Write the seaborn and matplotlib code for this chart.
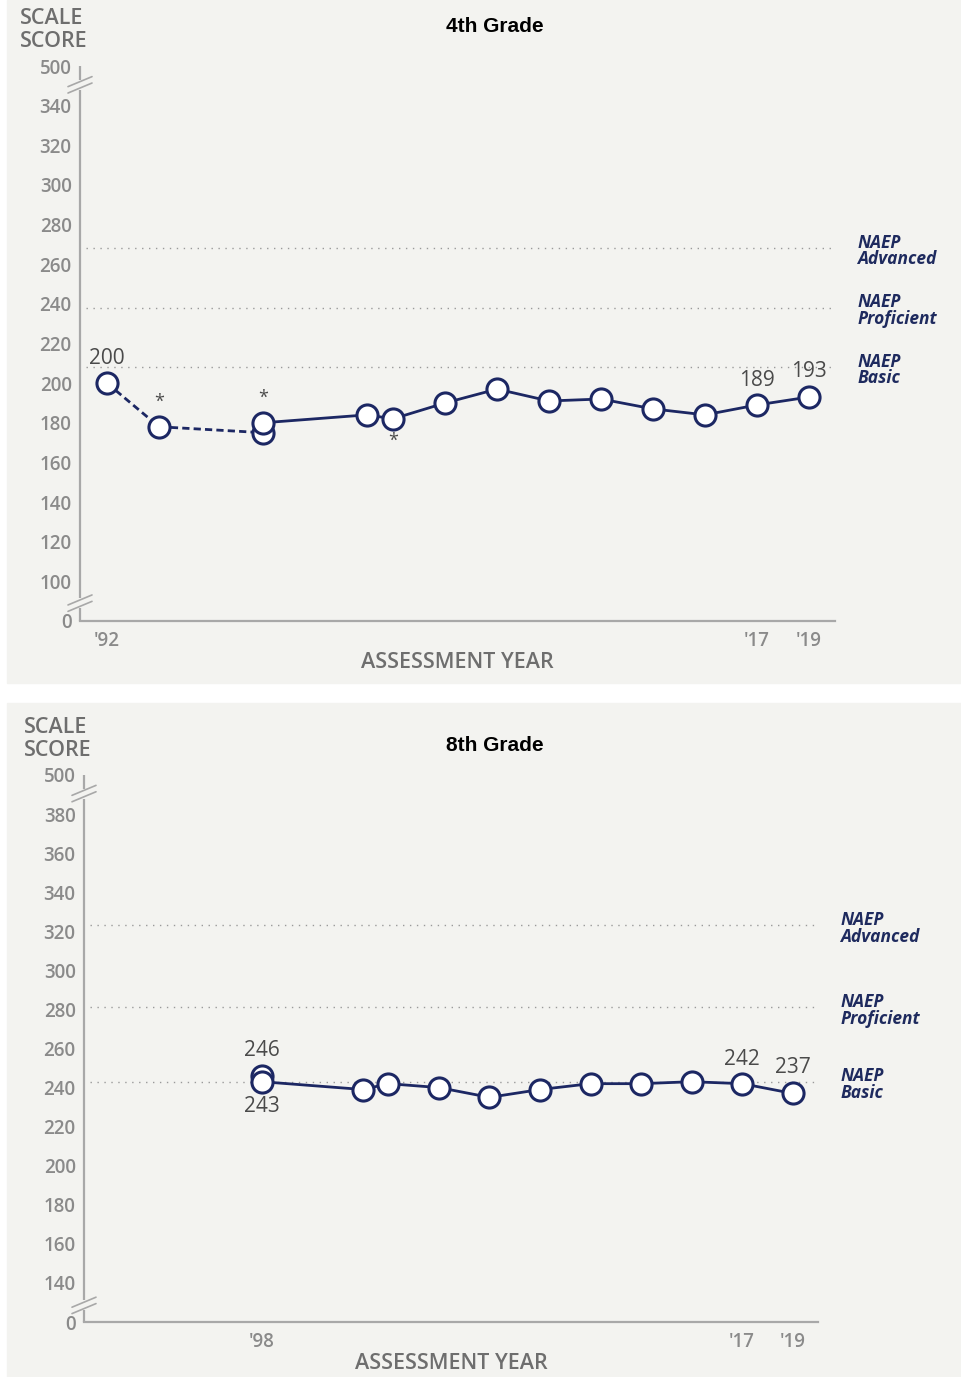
import numpy as np
import pandas as pd
import seaborn as sns
import matplotlib.pyplot as plt
from matplotlib.patches import Rectangle

# ---- data ----
# 4th grade
g4_years_np = [1992, 1994, 1998]           # accommodations not permitted (dashed)
g4_scores_np = [200, 178, 175]
g4_years = [1998, 2002, 2003, 2005, 2007, 2009, 2011, 2013, 2015, 2017, 2019]
g4_scores = [180, 184, 182, 190, 197, 191, 192, 187, 184, 189, 193]
g4_ticks = [1992, 1994, 1998, 2002, 2003, 2005, 2007, 2009, 2011, 2013, 2015, 2017, 2019]
g4_ticklabels = ["'92", "", "", "", "", "", "", "", "", "", "", "'17", "'19"]
g4_levels = [268, 238, 208]
g4_yticks = [80, 100, 120, 140, 160, 180, 200, 220, 240, 260, 280, 300, 320, 340, 360]
g4_yticklabels = ["0", "100", "120", "140", "160", "180", "200", "220", "240", "260",
                  "280", "300", "320", "340", "500"]
g4_stars_above = [(1994, 178), (1998, 180)]
g4_stars_below = [(2003, 182)]

# 8th grade
g8_years_np = [1998]
g8_scores_np = [246]
g8_years = [1998, 2002, 2003, 2005, 2007, 2009, 2011, 2013, 2015, 2017, 2019]
g8_scores = [243, 239, 242, 240, 235, 239, 242, 242, 243, 242, 237]
g8_ticks = [1992, 1994, 1998, 2002, 2003, 2005, 2007, 2009, 2011, 2013, 2015, 2017, 2019]
g8_ticklabels = ["", "", "'98", "", "", "", "", "", "", "", "", "'17", "'19"]
g8_levels = [323, 281, 243]
g8_yticks = [120, 140, 160, 180, 200, 220, 240, 260, 280, 300, 320, 340, 360, 380, 400]
g8_yticklabels = ["0", "140", "160", "180", "200", "220", "240", "260", "280", "300",
                  "320", "340", "360", "380", "500"]

level_names = ["NAEP\nAdvanced", "NAEP\nProficient", "NAEP\nBasic"]

navy = "#1c2763"
grey_axis = "#a8a8a8"
grey_text = "#8a8a8a"

sns.set_style("white")
plt.rcParams["font.family"] = ["Open Sans", "DejaVu Sans"]

W, H = 962, 1377
fig = plt.figure(figsize=(W / 100, H / 100), dpi=100)


def px_rect(l, r, top, bottom):
    return [l / W, 1 - bottom / H, (r - l) / W, (bottom - top) / H]


# light grey panels
for top, bottom in [(0, 683), (703, 1377)]:
    fig.add_artist(Rectangle((7 / W, 1 - bottom / H), (W - 7) / W, (bottom - top) / H,
                             transform=fig.transFigure, color="#f3f3f0", zorder=0))


def draw_panel(ax, years_np, scores_np, years, scores, ticks, ticklabels,
               yticks, yticklabels, levels, ylo, yhi, brk_lo, brk_hi):
    ax.patch.set_alpha(0)
    ax.set_xlim(1990.96, 2020.0)
    ax.set_ylim(ylo, yhi)

    for lv in levels:
        ax.axhline(lv, xmin=0.008, xmax=1, color="#9a9a9a", lw=1.0,
                   linestyle=(0, (1, 4)), zorder=1)
    for lv, name in zip(levels, level_names):
        ax.annotate(name, xy=(1, lv), xycoords=ax.get_yaxis_transform(),
                    xytext=(16, -2), textcoords="offset points", ha="left", va="center",
                    fontsize=12.5, fontweight="bold", fontstyle="italic",
                    color="#1e2a5e", linespacing=0.9)

    mk = dict(color=navy, marker="o", markersize=15.2, markerfacecolor="white",
              markeredgecolor=navy, markeredgewidth=2.2, linewidth=2.0)
    sns.lineplot(x=years_np, y=scores_np, ax=ax, linestyle=(0, (2.6, 1.5)), zorder=3, **mk)
    sns.lineplot(x=years, y=scores, ax=ax, zorder=4, **mk)

    ax.set_xticks(ticks)
    ax.set_xticklabels(ticklabels)
    ax.set_yticks(yticks)
    ax.set_yticklabels(yticklabels)
    ax.tick_params(axis="both", colors=grey_axis, labelcolor=grey_text,
                   labelsize=13.5, length=3.5, width=1.2, pad=2.5)
    ax.tick_params(axis="x", pad=4)
    for lab in ax.get_xticklabels() + ax.get_yticklabels():
        lab.set_fontweight("semibold")

    for s in ["top", "right", "left"]:
        ax.spines[s].set_visible(False)
    ax.spines["bottom"].set_color(grey_axis)
    ax.spines["bottom"].set_linewidth(1.6)

    # broken left axis
    yt = ax.get_yaxis_transform()
    ppu = ax.get_position().height * H / (yhi - ylo)  # pixels per unit
    for a, b in [(ylo, brk_lo - 4.5 / ppu), (brk_lo + 5 / ppu, brk_hi - 5 / ppu),
                 (brk_hi + 4.5 / ppu, yhi - 0.2)]:
        ax.plot([0, 0], [a, b], transform=yt, color=grey_axis, lw=1.6,
                clip_on=False, solid_capstyle="butt")
    dx = 12 / (ax.get_position().width * W)
    for yc in [brk_lo, brk_hi]:
        for off in [-3.2, 3.2]:
            ax.plot([-dx, dx], [yc + (off - 5) / ppu, yc + (off + 5) / ppu],
                    transform=yt, color=grey_axis, lw=1.2, clip_on=False)

    ax.set_xlabel("")
    ax.set_ylabel("")
    ax.annotate("ASSESSMENT YEAR", xy=(0.5, 0), xycoords="axes fraction",
                xytext=(0, -30), textcoords="offset points", ha="center", va="center",
                fontsize=15.5, fontweight="semibold", color="#6e6e6e")
    ax.annotate("SCALE\nSCORE", xy=(0, 1), xycoords="axes fraction",
                xytext=(-43.5, 41.5), textcoords="offset points", ha="left", va="top",
                fontsize=15.5, fontweight="semibold", color="#6e6e6e", linespacing=1.08)


def value_label(ax, x, y, dy):
    ax.annotate(str(y), xy=(x, y), xytext=(0, dy), textcoords="offset points",
                ha="center", va="center", fontsize=15, color="#4a4a4a", zorder=6)


# ---- 4th grade ----
ax1 = fig.add_axes(px_rect(80, 835, 66, 621))
draw_panel(ax1, g4_years_np, g4_scores_np, g4_years, g4_scores, g4_ticks, g4_ticklabels,
           g4_yticks, g4_yticklabels, g4_levels, 80, 360, 89, 350.5)
value_label(ax1, g4_years_np[0], g4_scores_np[0], 18)
value_label(ax1, g4_years[-2], g4_scores[-2], 17.5)
value_label(ax1, g4_years[-1], g4_scores[-1], 18.5)
for x, y in g4_stars_above:
    ax1.annotate("*", xy=(x, y), xytext=(0, 18), textcoords="offset points",
                 ha="center", va="center", fontsize=13, color="#4a4a4a")
for x, y in g4_stars_below:
    ax1.annotate("*", xy=(x, y), xytext=(0, -16), textcoords="offset points",
                 ha="center", va="center", fontsize=13, color="#4a4a4a")
fig.text(495 / W, 1 - 26 / H, "4th Grade", ha="center", va="center", fontsize=15,
         fontweight="bold", family="Liberation Sans", color="black")

# ---- 8th grade ----
ax2 = fig.add_axes(px_rect(84, 818, 775, 1322))
draw_panel(ax2, g8_years_np, g8_scores_np, g8_years, g8_scores, g8_ticks, g8_ticklabels,
           g8_yticks, g8_yticklabels, g8_levels, 120, 400, 128.5, 390.5)
value_label(ax2, g8_years_np[0], g8_scores_np[0], 18)
value_label(ax2, g8_years[0], g8_scores[0], -17.5)
value_label(ax2, g8_years[-2], g8_scores[-2], 17.5)
value_label(ax2, g8_years[-1], g8_scores[-1], 18.5)
fig.text(495 / W, 1 - 746 / H, "8th Grade", ha="center", va="center", fontsize=15,
         fontweight="bold", family="Liberation Sans", color="black")

fig.savefig("out.png", dpi=100)
